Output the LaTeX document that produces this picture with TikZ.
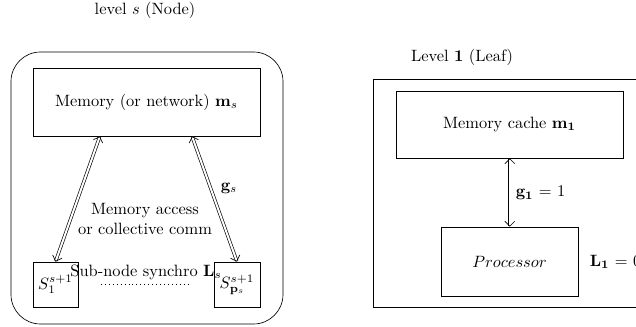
\documentclass[tikz,border=0pt]{standalone}
\usetikzlibrary{calc,arrows.meta}
\begin{document}
\begin{tikzpicture}[x=0.61pt,y=-0.61pt,
  box/.style={draw, inner sep=0pt},
  link/.style={double, double distance=1.2pt, line width=0.4pt,
    {Straight Barb[length=3pt,width=6pt,line width=0.4pt]}-{Straight Barb[length=3pt,width=6pt,line width=0.4pt]}}]
\useasboundingbox (0,0) rectangle (636,327);
% left: level s
\node (title1) at (145,10) {level $s$ (Node)};
\node[box, rounded corners=18pt, minimum width={272*0.61pt}, minimum height={272*0.61pt}] (outer) at (147,188) {};
\node[box, minimum width={227*0.61pt}, minimum height={68*0.61pt}] (mem) at (146.5,102) {Memory (or network) $\mathbf{m}_s$};
\node[box, minimum width={45*0.61pt}, minimum height={45*0.61pt}] (s1) at (55.5,284.5) {$S_1^{s+1}$};
\node[box, minimum width={46*0.61pt}, minimum height={45*0.61pt}] (sp) at (237,284.5) {$S_{\mathbf{p}_s}^{s+1}$};
\draw[link] ($(mem.south west)!0.295!(mem.south east)$) -- (s1.north);
\draw[link] ($(mem.south west)!0.70!(mem.south east)$) -- (sp.north);
\node[align=center] (access) at (145,219) {Memory access\\ or collective comm};
\node (gs) at (229,188) {$\mathbf{g}_s$};
\node (sync) at (146,272) {Sub-node synchro $\mathbf{L}_s$};
\coordinate (d1) at (101,284);
\coordinate (d2) at (190,284);
\draw[dotted] (d1) -- (d2);
% right: level 1
\node (title2) at (462,57) {Level $\mathbf{1}$ (Leaf)};
\draw (700,79) -| (373,307) -- (700,307);
\node[box, minimum width={227*0.61pt}, minimum height={67*0.61pt}] (cache) at (509.5,124.5) {Memory cache $\mathbf{m_1}$};
\node[box, minimum width={137*0.61pt}, minimum height={69*0.61pt}] (proc) at (509.5,261.5) {$Processor$};
\draw[link] ($(cache.south)+(0.3,0)$) -- ($(proc.north)+(0.3,0)$);
\node[anchor=west] (g1) at (510,193) {$\mathbf{g_1}$ = 1};
\node[anchor=west] (l1) at (584,262) {$\mathbf{L_1}$ = 0};
\end{tikzpicture}
\end{document}
